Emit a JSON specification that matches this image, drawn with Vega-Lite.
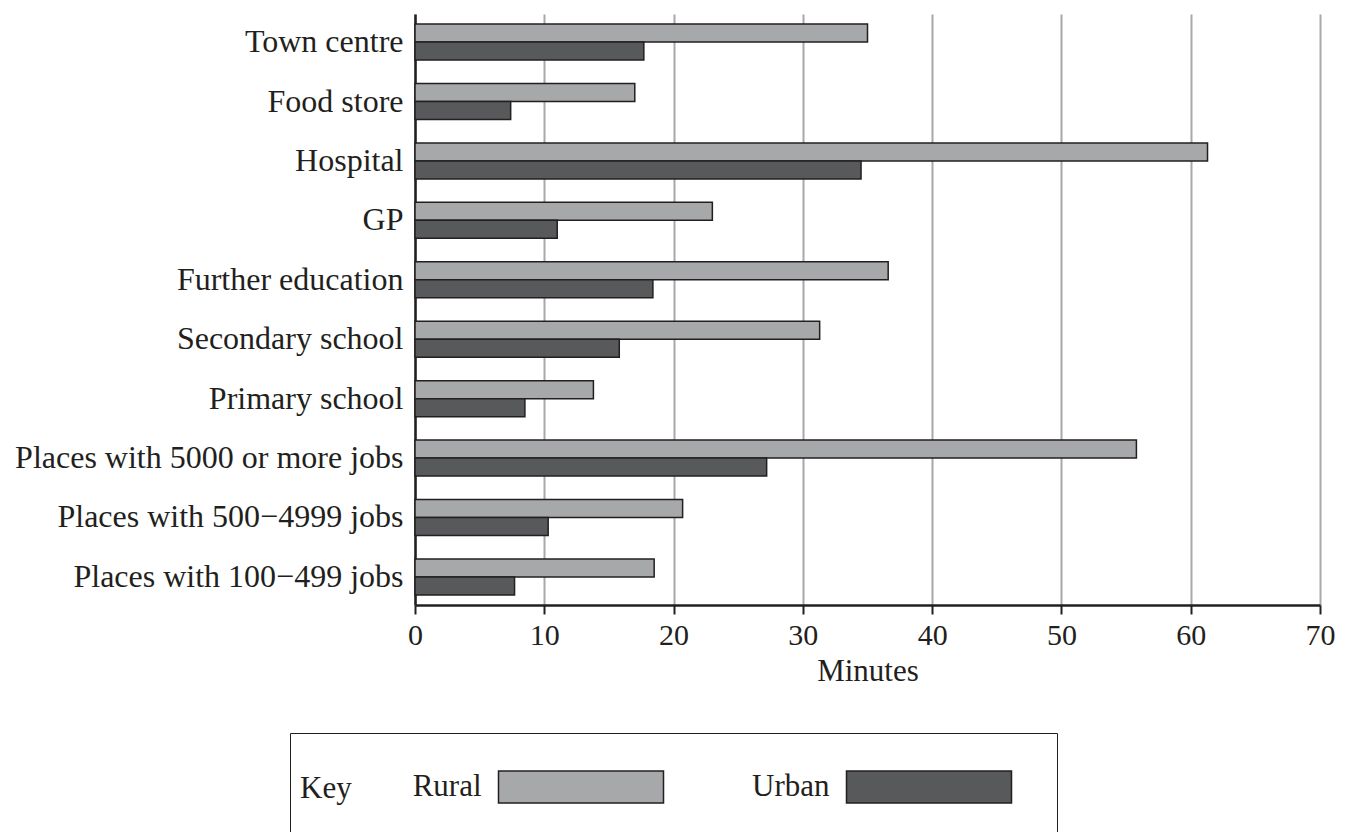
{
  "$schema": "https://vega.github.io/schema/vega-lite/v6.json",
  "width": 905,
  "height": 591,
  "autosize": {"type": "none"},
  "padding": {"left": 415, "top": 14, "right": 30, "bottom": 227},
  "background": "white",
  "config": {
    "font": "Liberation Serif",
    "view": {"stroke": null},
    "legend": {"labelFont": "Liberation Serif", "titleFont": "Liberation Serif"}
  },
  "data": {
    "values": [
      {"place": "Town centre", "area": "Rural", "minutes": 35.0},
      {"place": "Town centre", "area": "Urban", "minutes": 17.7},
      {"place": "Food store", "area": "Rural", "minutes": 17.0},
      {"place": "Food store", "area": "Urban", "minutes": 7.4},
      {"place": "Hospital", "area": "Rural", "minutes": 61.3},
      {"place": "Hospital", "area": "Urban", "minutes": 34.5},
      {"place": "GP", "area": "Rural", "minutes": 23.0},
      {"place": "GP", "area": "Urban", "minutes": 11.0},
      {"place": "Further education", "area": "Rural", "minutes": 36.6},
      {"place": "Further education", "area": "Urban", "minutes": 18.4},
      {"place": "Secondary school", "area": "Rural", "minutes": 31.3},
      {"place": "Secondary school", "area": "Urban", "minutes": 15.8},
      {"place": "Primary school", "area": "Rural", "minutes": 13.8},
      {"place": "Primary school", "area": "Urban", "minutes": 8.5},
      {"place": "Places with 5000 or more jobs", "area": "Rural", "minutes": 55.8},
      {"place": "Places with 5000 or more jobs", "area": "Urban", "minutes": 27.2},
      {"place": "Places with 500−4999 jobs", "area": "Rural", "minutes": 20.7},
      {"place": "Places with 500−4999 jobs", "area": "Urban", "minutes": 10.3},
      {"place": "Places with 100−499 jobs", "area": "Rural", "minutes": 18.5},
      {"place": "Places with 100−499 jobs", "area": "Urban", "minutes": 7.7}
    ]
  },
  "mark": {"type": "bar", "stroke": "#231f20", "strokeWidth": 1.5},
  "encoding": {
    "y": {
      "field": "place",
      "type": "nominal",
      "sort": null,
      "scale": {"paddingInner": 0.394, "paddingOuter": 0.17},
      "axis": {
        "title": null,
        "ticks": false,
        "grid": false,
        "labelPadding": 12,
        "labelFontSize": 32,
        "labelColor": "#231f20",
        "labelLimit": 600,
        "domainColor": "#231f20",
        "domainWidth": 2.5
      }
    },
    "yOffset": {"field": "area", "type": "nominal", "sort": ["Rural", "Urban"]},
    "x": {
      "field": "minutes",
      "type": "quantitative",
      "scale": {"domain": [0, 70], "nice": false},
      "axis": {
        "values": [0, 10, 20, 30, 40, 50, 60, 70],
        "title": "Minutes",
        "grid": true,
        "gridColor": "#a7a8aa",
        "gridWidth": 2,
        "tickColor": "#231f20",
        "tickSize": 9,
        "tickWidth": 2,
        "domainColor": "#231f20",
        "domainWidth": 2.5,
        "labelFontSize": 30,
        "labelPadding": 6,
        "labelColor": "#231f20",
        "labelFlush": false,
        "titleFontSize": 31,
        "titleFontWeight": "normal",
        "titleColor": "#231f20",
        "titlePadding": 6
      }
    },
    "fill": {
      "field": "area",
      "type": "nominal",
      "scale": {"domain": ["Rural", "Urban"], "range": ["#a7a8aa", "#58595b"]},
      "legend": {
        "orient": "none",
        "legendX": -125,
        "legendY": 719,
        "direction": "horizontal",
        "title": "Key",
        "titleOrient": "left",
        "titleAnchor": "middle",
        "titleBaseline": "middle",
        "titleFontSize": 31,
        "titleFontWeight": "normal",
        "titleColor": "#231f20",
        "titlePadding": 67,
        "strokeColor": "#231f20",
        "fillColor": "white",
        "padding": 10,
        "symbolType": "M-1.9186,-0.3721H1.9186V0.3721H-1.9186Z M2.663,1.0465",
        "symbolSize": 7396,
        "symbolOffset": 118,
        "symbolStrokeColor": "#231f20",
        "symbolStrokeWidth": 1.5,
        "symbolOpacity": 1,
        "labelFontSize": 31,
        "labelColor": "#231f20",
        "labelAlign": "right",
        "labelOffset": -143.5,
        "labelLimit": 300,
        "columnPadding": 53
      }
    }
  }
}
